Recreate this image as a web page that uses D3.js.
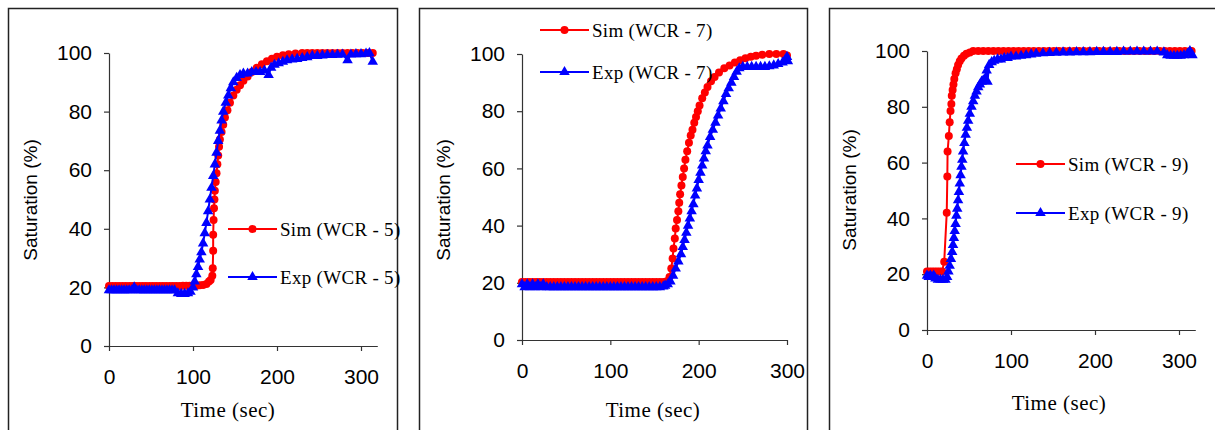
<!DOCTYPE html>
<html>
<head>
<meta charset="utf-8">
<script src="https://cdn.jsdelivr.net/npm/d3@7"></script>
<style>
  body { margin: 0; background: #fff; }
  svg { display: block; }
</style>
</head>
<body>
<svg id="chart" width="1215" height="430"></svg>
<script>
var svg = d3.select("#chart");

// tick labels
var xTicks = [0, 100, 200, 300];
var yTicks = [0, 20, 40, 60, 80, 100];

// legend labels, one per panel
var simNames = ["Sim (WCR - 5)", "Sim (WCR - 7)", "Sim (WCR - 9)"];
var expNames = ["Exp (WCR - 5)", "Exp (WCR - 7)", "Exp (WCR - 9)"];

// [time (sec), saturation (%)]
var sim5 = [[0,20.5],[4,20.5],[8,20.5],[12,20.5],[16,20.5],[20,20.5],[24,20.5],[28,20.5],[32,20.5],[36,20.5],
  [40,20.5],[44,20.5],[48,20.5],[52,20.5],[56,20.5],[60,20.5],[64,20.5],[68,20.5],[72,20.5],[76,20.5],
  [80,20.5],[84,20.5],[88,20.6],[92,20.6],[96,20.6],[100,20.6],[104,20.6],[108,20.7],[112,20.8],[116,21.2],
  [119,22],[121,22.5],[123,24],[123.5,26.5],[124,32.5],[124,38],[124.5,43],[125,47],[125.5,50],[126,53],
  [127,56],[128,59],[129,62],[130,65],[131,68],[132,70.5],[134,73],[136,75.5],[138,78],[141,80.5],
  [144,83],[148,85.5],[152,87.5],[156,89],[160,90.5],[165,92],[170,93.5],[176,95],[182,96.2],[188,97.2],
  [194,98],[200,98.7],[207,99.2],[214,99.6],[222,99.8],[230,100],[236,100],[242,100],[248,100],[254,100],
  [260,100],[266,100],[272,100],[278,100],[284,100],[290,100],[296,100],[302,100],[308,100],[314,100]];

var exp5 = [[0,19],[3,19],[6,19],[9,19],[12,19],[15,19],[18,19],[21,19],[24,19],[27,19],[30,20],[33,19],
  [36,19],[39,19],[42,19],[45,19],[48,19],[51,19],[54,19],[57,19],[60,19],[63,19],[66,19],[69,19],[72,19],
  [75,19],[78,19],[82,18],[86,17.8],[90,17.8],[94,18],[97,18.5],[100,20],[102,22],[104,24.5],[106,27],
  [108,29.5],[110,32],[112,35],[114,38.5],[116,42],[118,46],[120,50],[122,54],[124,58],[126,62],[128,66],
  [130,70],[132,73.5],[134,77],[136,80],[139,83],[142,85.5],[145,88],[148,90],[152,91.5],[156,92.5],
  [160,93],[165,93],[170,93.5],[175,93.5],[180,93.5],[185,94],[190,92.5],[193,95],[197,96],[202,96.5],
  [207,97],[212,97.5],[218,97.8],[224,98],[230,98.3],[236,98.6],[242,99],[248,99],[254,99.2],[260,99.3],
  [266,99.3],[272,99.4],[278,99.5],[284,97.5],[288,99.5],[294,99.6],[300,99.6],[306,99.8],[310,100],[314,97]];

var sim7 = [[0,20.3],[4,20.3],[8,20.3],[12,20.3],[16,20.3],[20,20.3],[24,20.3],[28,20.3],[32,20.3],[36,20.3],
  [40,20.3],[44,20.3],[48,20.3],[52,20.3],[56,20.3],[60,20.3],[64,20.3],[68,20.3],[72,20.3],[76,20.3],
  [80,20.3],[84,20.3],[88,20.3],[92,20.3],[96,20.3],[100,20.3],[104,20.3],[108,20.3],[112,20.3],[116,20.3],
  [120,20.3],[124,20.3],[128,20.3],[132,20.3],[136,20.3],[140,20.3],[144,20.3],[148,20.3],[152,20.3],
  [156,20.3],[160,20.3],[164,20.5],[167,22],[169,25],[170.5,28.5],[171.5,32],[173,35.5],[174,39],
  [175.5,42],[177,45],[178,48],[179,51],[180.5,54],[182,57],[183.5,60],[185,63],[187,66],[189,69],
  [191,71.5],[193,73.5],[195,76],[197,78],[199,80],[201,82],[204,84.5],[207,86.5],[210,88.5],[214,90.5],
  [218,92],[223,93.5],[229,95],[235,96],[241,97],[247,97.8],[253,98.5],[259,99],[265,99.4],[272,99.7],
  [280,100],[288,100],[296,100],[300,99.5]];

var exp7 = [[0,19.5],[3,18.5],[6,19.5],[9,18.5],[12,19.5],[15,18.5],[18,19.5],[21,18.5],[24,19.5],[28,18.5],
  [32,18.5],[36,18.5],[40,18.5],[44,18.5],[48,18.5],[52,18.5],[56,18.5],[60,18.5],[64,18.5],[68,18.5],
  [72,18.5],[76,18.5],[80,18.5],[84,18.5],[88,18.5],[92,18.5],[96,18.5],[100,18.5],[104,18.5],[108,18.5],
  [112,18.5],[116,18.5],[120,18.5],[124,18.5],[128,18.5],[132,18.5],[136,18.5],[140,18.5],[144,18.5],
  [148,18.5],[152,18.5],[156,18.5],[160,18.7],[162,19],[165,19.5],[168,20.5],[171,22.5],[174,25],
  [177,27.5],[180,30],[182,32.5],[184,35],[186,37.5],[188,40],[190,42.5],[192,45],[194,47.5],[196,50.5],
  [198,53],[200,56],[202,58.5],[204,61],[206,63.5],[208,66],[210,68],[213,71],[216,73.5],[219,76],
  [222,78.5],[225,81],[228,83.5],[231,86],[234,88],[237,90],[240,92],[243,93.8],[246,95],[250,95.5],
  [255,95.5],[260,95.5],[265,95.5],[270,95.5],[275,95.5],[280,95.7],[285,96],[290,96.5],[295,97],
  [298,98],[300,99],[301,97.5]];

var sim9 = [[0,21],[3,21],[6,21],[9,21],[12,21],[15,21],[18,21],[20.5,24.5],[23.5,42],[24.2,55],[24.5,64],
  [26,69.5],[27,74.5],[28,78.5],[29,81],[29.5,84],[30.5,86],[31.5,88],[32.5,90],[34,92],[35.5,93.5],
  [37,95],[39,96.3],[41,97.3],[44,98.3],[47,99],[51,99.5],[55,100],[61,100],[67,100],[73,100],[79,100],
  [85,100],[91,100],[97,100],[103,100],[109,100],[115,100],[121,100],[127,100],[133,100],[139,100],
  [145,100],[151,100],[157,100],[163,100],[169,100],[175,100],[181,100],[187,100],[193,100],[199,100],
  [205,100],[211,100],[217,100],[223,100],[229,100],[235,100],[241,100],[247,100],[253,100],[259,100],
  [265,100],[271,100],[277,100],[283,100],[289,100],[295,100],[301,100],[307,100],[313,100],[315,100]];

var exp9 = [[0,19.5],[2,19],[4,19.5],[6,19],[8,19.5],[10,18.5],[13,18],[16,18],[19,18],[22,18],[24,19],
  [25.5,21],[27,23],[28.5,25.5],[30,28],[31,30.5],[32,33],[33,35.5],[34,38],[35,41],[36,43.5],[37,46.5],
  [38,49.5],[39,52.5],[40,55.5],[41,58.5],[42,61],[43,64],[44.5,67],[46,70],[47.5,72.5],[49,75],[51,77.5],
  [53,80],[55,82],[57,84],[59,85.5],[61,87],[63,88],[65,89],[67,89.5],[69,90],[71,93],[72,89],[74,95],
  [77,96],[80,96.5],[84,97],[88,97],[92,97.5],[96,97.5],[100,98],[106,98],[112,98.3],[118,98.5],
  [124,98.8],[130,99],[138,99.2],[146,99.3],[154,99.4],[162,99.5],[170,99.5],[178,99.6],[186,99.6],
  [194,99.6],[202,99.7],[210,99.7],[218,99.7],[226,99.7],[234,99.8],[242,99.8],[250,99.8],[258,99.8],
  [266,99.8],[274,99.8],[282,99.5],[286,98.5],[290,98.3],[294,98.3],[298,98.3],[302,98.3],[306,98.5],
  [310,99],[313,100],[316,98.5]];

var simSeries = [sim5, sim7, sim9];
var expSeries = [exp5, exp7, exp9];

// panel layout (pixels)
var panels = [
  { frame: [8, 397], x0: 109, x300: 361, xMax: 320, yTop: 53, yBottom: 346,
    yLabel: [30, 200], xTitle: [228, 417], legend: [228, 229, 277] },
  { frame: [419, 807], x0: 522, x300: 787, xMax: 300, yTop: 54, yBottom: 340,
    yLabel: [443, 200], xTitle: [653, 417], legend: [540, 30, 72] },
  { frame: [829, 1225], x0: 927, x300: 1179, xMax: 320, yTop: 51, yBottom: 330,
    yLabel: [849, 190], xTitle: [1059, 410], legend: [1016, 164, 213] }
];

var red = "#ff0000";
var blue = "#0000ff";
var triangle = d3.symbol().type(d3.symbolTriangle).size(48);

panels.forEach(function (p, i) {
  var g = svg.append("g");

  // panel frame
  g.append("rect")
    .attr("x", p.frame[0] + 0.5)
    .attr("y", 8.5)
    .attr("width", p.frame[1] - p.frame[0])
    .attr("height", 440)
    .attr("fill", "none")
    .attr("stroke", "#222")
    .attr("stroke-width", 1.5);

  var x = d3.scaleLinear().domain([0, 300]).range([p.x0, p.x300]);
  var y = d3.scaleLinear().domain([0, 100]).range([p.yBottom, p.yTop]);

  var xAxis = d3.axisBottom(x.copy().domain([0, p.xMax]).range([p.x0, x(p.xMax)]))
    .tickValues(xTicks).tickSizeInner(5).tickSizeOuter(0).tickPadding(18);
  var yAxis = d3.axisLeft(y).tickValues(yTicks).tickSizeInner(5).tickSizeOuter(0).tickPadding(12);

  var gx = g.append("g").attr("transform", "translate(0," + p.yBottom + ")").call(xAxis);
  var gy = g.append("g").attr("transform", "translate(" + p.x0 + ",0)").call(yAxis);

  // x axis line also runs under the y tick at 0
  gx.select(".domain").attr("d", "M" + (p.x0 - 5) + ",0.5H" + x(p.xMax));

  [gx, gy].forEach(function (ax) {
    ax.selectAll(".domain, .tick line").attr("stroke", "#333").attr("stroke-width", 1.2);
    ax.selectAll("text")
      .attr("fill", "#000")
      .style("font-family", "'Liberation Sans', Arial, sans-serif")
      .style("font-size", "21px");
  });

  // axis titles
  g.append("text")
    .attr("transform", "translate(" + p.yLabel[0] + "," + p.yLabel[1] + ")rotate(-90)")
    .attr("text-anchor", "middle")
    .attr("dy", "0.35em")
    .style("font-family", "'Liberation Sans', Arial, sans-serif")
    .style("font-size", "19px")
    .text("Saturation (%)");

  g.append("text")
    .attr("x", p.xTitle[0])
    .attr("y", p.xTitle[1])
    .attr("text-anchor", "middle")
    .style("font-family", "'Liberation Serif', 'Times New Roman', serif")
    .style("font-size", "21px")
    .style("letter-spacing", "0.5px")
    .text("Time (sec)");

  var line = d3.line()
    .x(function (d) { return x(d[0]); })
    .y(function (d) { return y(d[1]); });

  // simulation: red line with circles
  g.append("path")
    .datum(simSeries[i])
    .attr("d", line)
    .attr("fill", "none")
    .attr("stroke", red)
    .attr("stroke-width", 2);

  g.selectAll(".sim")
    .data(simSeries[i])
    .enter()
    .append("circle")
    .attr("cx", function (d) { return x(d[0]); })
    .attr("cy", function (d) { return y(d[1]); })
    .attr("r", 4)
    .attr("fill", red);

  // experiment: blue line with triangles
  g.append("path")
    .datum(expSeries[i])
    .attr("d", line)
    .attr("fill", "none")
    .attr("stroke", blue)
    .attr("stroke-width", 2);

  g.selectAll(".exp")
    .data(expSeries[i])
    .enter()
    .append("path")
    .attr("d", triangle)
    .attr("transform", function (d) { return "translate(" + x(d[0]) + "," + y(d[1]) + ")"; })
    .attr("fill", blue);

  // legend
  var lx = p.legend[0];
  var items = [
    { name: simNames[i], color: red, ly: p.legend[1], mark: "circle" },
    { name: expNames[i], color: blue, ly: p.legend[2], mark: "triangle" }
  ];
  items.forEach(function (it) {
    g.append("line")
      .attr("x1", lx).attr("x2", lx + 49)
      .attr("y1", it.ly).attr("y2", it.ly)
      .attr("stroke", it.color)
      .attr("stroke-width", 2);
    if (it.mark === "circle") {
      g.append("circle").attr("cx", lx + 24.5).attr("cy", it.ly).attr("r", 4).attr("fill", it.color);
    } else {
      g.append("path").attr("d", triangle)
        .attr("transform", "translate(" + (lx + 24.5) + "," + it.ly + ")")
        .attr("fill", it.color);
    }
    g.append("text")
      .attr("x", lx + 52)
      .attr("y", it.ly)
      .attr("dy", "0.35em")
      .style("font-family", "'Liberation Serif', 'Times New Roman', serif")
      .style("font-size", "19px")
      .style("letter-spacing", "0.3px")
      .text(it.name);
  });
});
</script>
</body>
</html>
